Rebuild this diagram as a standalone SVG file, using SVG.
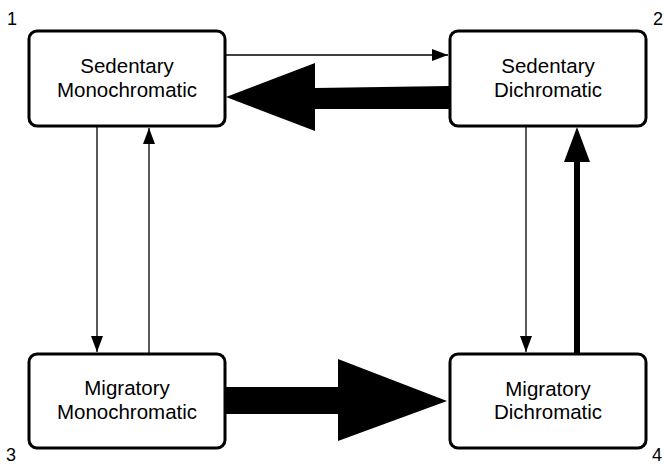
<svg xmlns="http://www.w3.org/2000/svg" width="664" height="467" viewBox="0 0 664 467">
<defs>
<style>
.box{fill:#fff;stroke:#000;stroke-width:3}
.lbl{font-family:"Liberation Sans",Arial,sans-serif;font-size:20.5px;fill:#000;text-anchor:middle}
.num{font-family:"Liberation Sans",Arial,sans-serif;font-size:18px;fill:#000}
.thin{stroke:#000;stroke-width:1.3;fill:none}
.solid{fill:#000;stroke:none}
</style>
<marker id="ah" viewBox="0 0 16 12" refX="16" refY="6" markerWidth="16" markerHeight="12" markerUnits="userSpaceOnUse" orient="auto">
<path d="M0,0 L16,6 L0,12 Z" fill="#000"/>
</marker>
</defs>
<rect width="664" height="467" fill="#fff"/>
<g id="connectors">
<line class="thin" x1="226" y1="55" x2="448" y2="55" marker-end="url(#ah)"/>
<path class="solid" d="M449,86 L315,88 L315,63 L226,97 L315,131 L315,109 L449,109 Z"/>
<line class="thin" x1="97" y1="127" x2="97" y2="352" marker-end="url(#ah)"/>
<line class="thin" x1="149" y1="353" x2="149" y2="128" marker-end="url(#ah)"/>
<line class="thin" x1="526" y1="127" x2="526" y2="352" marker-end="url(#ah)"/>
<path class="solid" d="M574,353 L574,162 L564,162 L577,127 L590,162 L580,162 L580,353 Z"/>
<path class="solid" d="M225,387 L338,387 L338,359 L447,401 L338,441 L338,414 L225,414 Z"/>
</g>
<g id="node1">
<rect class="box" x="29" y="31" width="196" height="95" rx="8"/>
<text class="lbl" x="127" y="73">Sedentary</text>
<text class="lbl" x="127" y="97">Monochromatic</text>
<text class="num" x="7" y="25">1</text>
</g>
<g id="node2">
<rect class="box" x="450" y="31" width="196" height="95" rx="8"/>
<text class="lbl" x="548" y="73">Sedentary</text>
<text class="lbl" x="548" y="97">Dichromatic</text>
<text class="num" x="653" y="25">2</text>
</g>
<g id="node3">
<rect class="box" x="29" y="354" width="196" height="94" rx="8"/>
<text class="lbl" x="127" y="395">Migratory</text>
<text class="lbl" x="127" y="419">Monochromatic</text>
<text class="num" x="6" y="461">3</text>
</g>
<g id="node4">
<rect class="box" x="450" y="354" width="196" height="94" rx="8"/>
<text class="lbl" x="548" y="396">Migratory</text>
<text class="lbl" x="548" y="419">Dichromatic</text>
<text class="num" x="652" y="461">4</text>
</g>
</svg>
